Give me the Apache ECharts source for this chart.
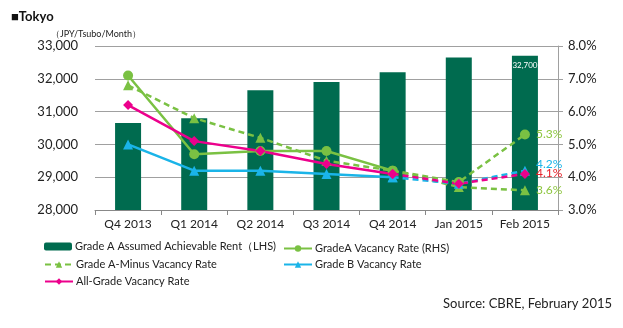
<!DOCTYPE html>
<html><head><meta charset="utf-8">
<script src="https://cdn.jsdelivr.net/npm/echarts@6/dist/echarts.min.js"></script>
<style>html,body{margin:0;padding:0;background:#fff}#c{width:623px;height:328px}</style>
</head><body><div id="c"></div>
<script>
const categories = ['Q4 2013','Q1 2014','Q2 2014','Q3 2014','Q4 2014','Jan 2015','Feb 2015'];
const rentGradeA = [30650, 30800, 31650, 31900, 32200, 32650, 32700];
const vacGradeA = [7.1, 4.7, 4.8, 4.8, 4.2, 3.85, 5.3];
const vacGradeAMinus = [6.8, 5.8, 5.2, 4.5, 4.2, 3.7, 3.6];
const vacGradeB = [5.0, 4.2, 4.2, 4.1, 4.0, 3.8, 4.2];
const vacAllGrade = [6.2, 5.1, 4.8, 4.4, 4.1, 3.8, 4.1];
const leftTicks = [28000, 33000, 1000];
const rightTicks = [3, 8, 1];

const FONT = 'Lato';
const cGreenDark = '#006B4F', cGreen = '#7AC143', cBlue = '#1AB4E8', cPink = '#EC008C';
const split = 4;
function solidPart(a){return a.map((v,i)=>i<=split?v:null);}
function dashPart(a){return a.map((v,i)=>i>=split?v:null);}
function endLabel(a, text, color, dy){
  return a.map((v,i)=> i===a.length-1 ? {value:v, label:{show:true, position:'right', distance:6, offset:[0,dy], formatter:text, color:color, fontSize:12, fontFamily:FONT}} : v);
}
function lineSeries(name, data, color, symbol, size, dashed){
  return {name, type:'line', yAxisIndex:1, data, connectNulls:false,
    symbol, symbolSize:size, z:5,
    lineStyle:{color, width:2.5, type: dashed?[6,4]:'solid'},
    itemStyle:{color}};
}
const pct = v => v.toFixed(1)+'%';
const series = [
  {name:'Grade A Assumed Achievable Rent（LHS)', type:'bar', yAxisIndex:0, data: rentGradeA.map((v,i)=> i===rentGradeA.length-1 ? {value:v, label:{show:true, position:'insideTop', distance:6, color:'#fff', fontSize:8, fontFamily:FONT, formatter: p=>p.value.toLocaleString('en-US')}} : v),
    barWidth:26, itemStyle:{color:cGreenDark}, z:2},
  lineSeries('GradeA Vacancy Rate (RHS)', solidPart(vacGradeA), cGreen, 'circle', 10, false),
  lineSeries('gA2', endLabel(dashPart(vacGradeA), pct(vacGradeA[6]), '#8DC63F', 0), cGreen, 'circle', 10, true),
  lineSeries('Grade A-Minus Vacancy Rate', endLabel(vacGradeAMinus, pct(vacGradeAMinus[6]), '#8DC63F', 0), cGreen, 'triangle', 10, true),
  lineSeries('Grade B Vacancy Rate', solidPart(vacGradeB), cBlue, 'triangle', 10, false),
  lineSeries('gB2', endLabel(dashPart(vacGradeB), pct(vacGradeB[6]), '#1AB4E8', -7), cBlue, 'triangle', 10, true),
  lineSeries('All-Grade Vacancy Rate', solidPart(vacAllGrade), cPink, 'diamond', 10, false),
  lineSeries('all2', endLabel(dashPart(vacAllGrade), pct(vacAllGrade[6]), '#E8202A', -1), cPink, 'diamond', 10, true),
];
const legendText = {fontSize:11, color:'#222', fontFamily:FONT, padding:[0,0,0,-2]};
function lg(name, left, top){
  return {data:[name], left, top, itemWidth:28, itemHeight:8, itemGap:0, textStyle:legendText, selectedMode:false, padding:0};
}
const chart = echarts.init(document.getElementById('c'));
chart.setOption({
  animation:false,
  title:[
    {text:'■Tokyo', left:6, top:5, textStyle:{fontSize:13, fontWeight:'bold', color:'#111', fontFamily:FONT}},
    {text:'（JPY/Tsubo/Month）', left:46, top:25, textStyle:{fontSize:9, fontWeight:'normal', color:'#222', fontFamily:FONT}},
    {text:'Source: CBRE, February 2015', right:6, top:292, textStyle:{fontSize:13, fontWeight:'normal', color:'#222', fontFamily:FONT}}
  ],
  legend:[
    lg('Grade A Assumed Achievable Rent（LHS)', 44, 241),
    lg('GradeA Vacancy Rate (RHS)', 283, 243),
    lg('Grade A-Minus Vacancy Rate', 44, 259),
    lg('Grade B Vacancy Rate', 283, 259),
    lg('All-Grade Vacancy Rate', 44, 276)
  ],
  grid:{left:95, right:65, top:46, bottom:118},
  xAxis:{type:'category', data:categories,
    axisLine:{lineStyle:{color:'#888'}}, axisTick:{show:true, lineStyle:{color:'#888'}},
    axisLabel:{color:'#222', fontSize:12, fontFamily:FONT, margin:8}},
  yAxis:[
    {type:'value', min:leftTicks[0], max:leftTicks[1], interval:leftTicks[2],
      axisLine:{show:false}, axisTick:{show:false},
      splitLine:{lineStyle:{color:'#A0A0A0'}},
      axisLabel:{color:'#222', fontSize:13, fontFamily:FONT, margin:17, formatter:v=>v.toLocaleString('en-US')}},
    {type:'value', min:rightTicks[0], max:rightTicks[1], interval:rightTicks[2],
      axisLine:{show:true, lineStyle:{color:'#A0A0A0'}}, axisTick:{show:true, length:5, lineStyle:{color:'#A0A0A0'}},
      splitLine:{show:false},
      axisLabel:{color:'#222', fontSize:13, fontFamily:FONT, margin:10, formatter:v=>v.toFixed(1)+'%'}}
  ],
  series
});
</script></body></html>
